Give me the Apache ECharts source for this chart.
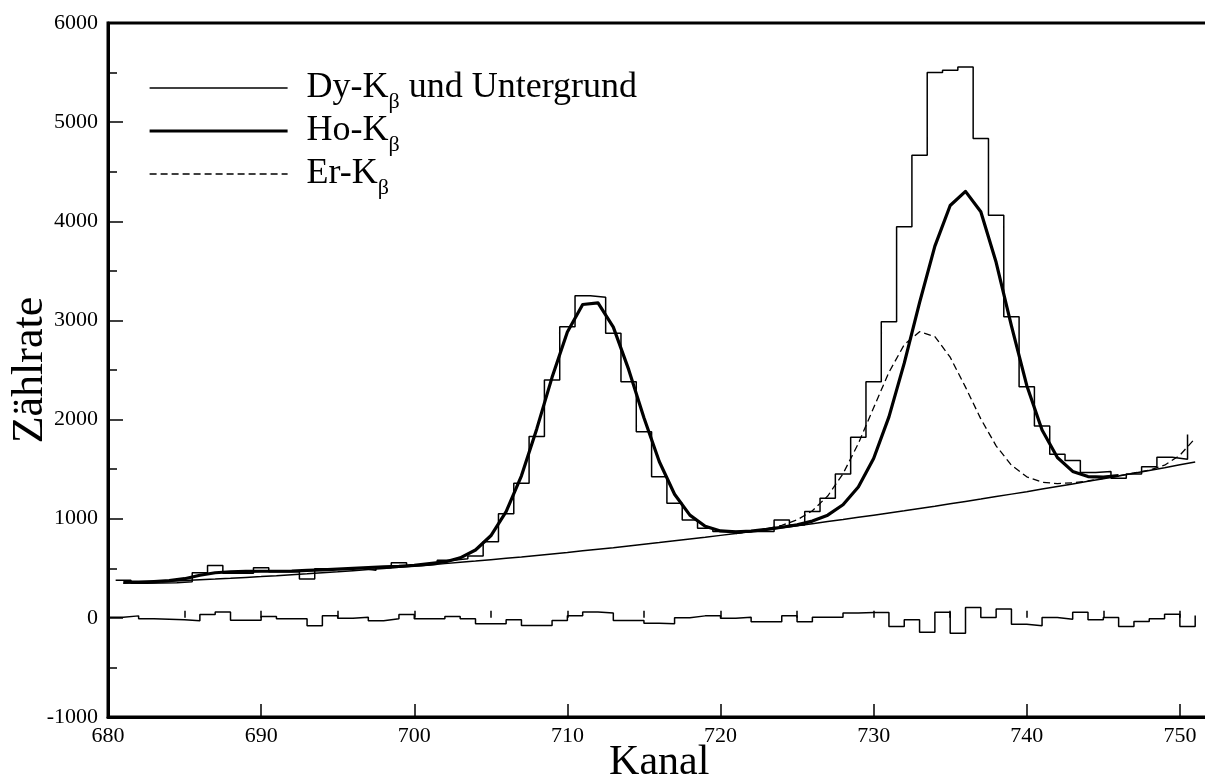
<!DOCTYPE html>
<html>
<head>
<meta charset="utf-8">
<script src="https://cdn.jsdelivr.net/npm/echarts@6/dist/echarts.min.js"></script>
<style>
  html, body { margin: 0; padding: 0; background: #fff; }
  #chart { width: 1205px; height: 779px; }
</style>
</head>
<body>
<div id="chart"></div>
<script>
// Kβ region of the spectrum: measured counts per channel, fitted components and residuals.

const firstChannel = 681;          // channel of counts[0], background[0], hoFit[0]
const erFirstChannel = 721;        // channel of erFit[0]
const residualFirstChannel = 680;  // channel of residuals[0]

// measured counts (channels 681 ... 751)
const counts = [
  380, 350, 351, 355, 365, 454, 527, 450, 450, 505,
  465, 465, 393, 495, 490, 500, 480, 505, 557, 525,
  540, 580, 595, 624, 768, 1051, 1358, 1828, 2399, 2937,
  3250, 3233, 2870, 2382, 1878, 1424, 1156, 988, 904, 870,
  870, 870, 872, 988, 937, 1072, 1207, 1452, 1821, 2382,
  2987, 3945, 4667, 5500, 5524, 5557, 4836, 4062, 3037, 2332,
  1935, 1650, 1586, 1465, 1475, 1408, 1452, 1525, 1620, 1600,
  1850
];

// Dy-Kβ und Untergrund (channels 681 ... 751)
const background = [
  350, 356, 362, 369, 376, 384, 391, 399, 408, 416,
  425, 435, 444, 455, 465, 476, 487, 498, 510, 522,
  534, 547, 560, 573, 587, 601, 615, 630, 645, 660,
  676, 692, 708, 725, 742, 759, 777, 795, 813, 832,
  851, 870, 889, 909, 929, 950, 971, 992, 1014, 1036,
  1058, 1080, 1103, 1126, 1150, 1174, 1198, 1223, 1248, 1273,
  1299, 1325, 1351, 1377, 1404, 1431, 1459, 1487, 1515, 1544,
  1573
];

// Ho-Kβ fit curve (channels 681 ... 746)
const hoFit = [
  360, 360, 366, 375, 395, 430, 455, 465, 468, 470,
  470, 472, 478, 484, 492, 500, 508, 514, 520, 530,
  548, 564, 605, 684, 828, 1071, 1433, 1906, 2426, 2884,
  3161, 3177, 2932, 2506, 2018, 1577, 1247, 1036, 924, 877,
  868, 875, 892, 914, 938, 976, 1036, 1141, 1320, 1608,
  2027, 2569, 3179, 3749, 4159, 4302, 4096, 3586, 2945, 2344,
  1894, 1617, 1477, 1425, 1420, 1436
];

// Er-Kβ fit curve (channels 721 ... 751)
const erFit = [
  851, 870, 898, 933, 988, 1080, 1229, 1453, 1758, 2119,
  2477, 2756, 2887, 2837, 2629, 2327, 2007, 1735, 1540, 1423,
  1368, 1354, 1362, 1381, 1406, 1433, 1461, 1490, 1540, 1640,
  1811
];

// residuals, measured minus fit (channels 680 ... 751)
const residuals = [
  7, 20, -10, -15, -20, -30, 35, 60, -25, -25,
  13, -8, -8, -80, 20, -3, 7, -30, -10, 35,
  -10, -10, 13, -10, -60, -60, -20, -77, -77, -27,
  20, 60, 50, -27, -27, -54, -60, 0, 20, 20,
  -3, 7, -40, -40, 20, -40, 5, 5, 50, 55,
  55, -87, -20, -144, 57, -155, 104, 3, 90, -64,
  -80, 3, -13, 57, -20, 3, -87, -37, -10, 37,
  -87, 23
];

const legendNames = ['Dy-Kβ und Untergrund', 'Ho-Kβ', 'Er-Kβ'];
const xTitle = 'Kanal';
const yTitle = 'Zählrate';

const serif = "'Liberation Serif', 'DejaVu Serif', 'Times New Roman', serif";

// line styles shared by the curves and their legend samples
const thinLine = { color: '#000', width: 1.5 };
const thickLine = { color: '#000', width: 3.2, join: 'round' };
const dashedLine = { color: '#000', width: 1.3, type: [7, 4] };

// pair each value with its channel; offset shifts to a bin's left edge
function pairs(values, start, offset) {
  return values.map((v, i) => [start + i + (offset || 0), v]);
}

const chart = echarts.init(document.getElementById('chart'), null, { renderer: 'canvas' });

const black = '#000';

chart.setOption({
  animation: false,
  backgroundColor: '#fff',
  grid: {
    left: 108, top: 23, right: -5.5, bottom: 62,
    show: true, borderColor: black, borderWidth: 3, backgroundColor: 'transparent',
    containLabel: false, outerBoundsMode: 'none'
  },
  legend: {
    orient: 'vertical',
    left: 148, top: 70, padding: 0,
    itemWidth: 138, itemHeight: 10, itemGap: 0,
    selectedMode: false,
    data: [
      { name: legendNames[0], lineStyle: thinLine },
      { name: legendNames[1], lineStyle: thickLine },
      { name: legendNames[2], lineStyle: dashedLine }
    ],
    itemStyle: { opacity: 0 },
    formatter: function (name) {
      const parts = name.split('β');
      let s = '{g| }{n|' + parts[0] + '}{s|β}';
      if (parts[1]) s += '{n|' + parts[1] + '}';
      return s;
    },
    textStyle: {
      color: black,
      rich: {
        g: { width: 14 },
        n: { fontFamily: serif, fontSize: 36, color: black },
        s: { fontFamily: serif, fontSize: 22, color: black, padding: [28, 0, 0, 0] }
      }
    }
  },
  xAxis: [
    {
      type: 'value', min: 680, max: 752, interval: 10, position: 'bottom',
      axisLine: { show: true, onZero: false, lineStyle: { color: black, width: 3 } },
      axisTick: { show: true, inside: true, length: 13, lineStyle: { color: black, width: 1.5 } },
      axisLabel: {
        fontFamily: serif, fontSize: 22, color: black, margin: 8,
        formatter: v => (v % 10 === 0 ? String(v) : '')
      },
      splitLine: { show: false },
      name: xTitle, nameLocation: 'middle', nameGap: 25, nameMoveOverlap: false,
      nameTextStyle: { fontFamily: serif, fontSize: 42, color: black }
    },
    {
      type: 'value', min: 680, max: 752, interval: 5, position: 'bottom',
      axisLine: { show: false },
      axisTick: { show: true, inside: true, length: 7, lineStyle: { color: black, width: 1.5 } },
      axisLabel: { show: false },
      splitLine: { show: false }
    }
  ],
  yAxis: {
    type: 'value', min: -1000, max: 6000, interval: 1000,
    axisLine: { show: true, onZero: false, lineStyle: { color: black, width: 3 } },
    axisTick: { show: true, inside: true, length: 15, lineStyle: { color: black, width: 1.5 } },
    minorTick: { show: true, splitNumber: 2, length: 9, lineStyle: { color: black, width: 1.5 } },
    axisLabel: {
      fontFamily: serif, fontSize: 22, color: black, margin: 10,
      formatter: v => String(v)
    },
    splitLine: { show: false },
    name: yTitle, nameLocation: 'middle', nameGap: 56, nameMoveOverlap: false,
    nameTextStyle: { fontFamily: serif, fontSize: 44, color: black }
  },
  series: [
    {
      name: 'Messung', type: 'line', step: 'end', symbol: 'none', silent: true,
      data: pairs(counts, firstChannel, -0.5),
      lineStyle: thinLine, itemStyle: { color: black }, z: 2
    },
    {
      name: legendNames[0], type: 'line', symbol: 'none', silent: true,
      data: pairs(background, firstChannel),
      lineStyle: thinLine, itemStyle: { color: black }, z: 3
    },
    {
      name: legendNames[1], type: 'line', symbol: 'none', silent: true,
      data: pairs(hoFit, firstChannel),
      lineStyle: thickLine, itemStyle: { color: black }, z: 4
    },
    {
      name: legendNames[2], type: 'line', symbol: 'none', silent: true,
      data: pairs(erFit, erFirstChannel),
      lineStyle: dashedLine, itemStyle: { color: black }, z: 3
    },
    {
      name: 'Residuen', type: 'line', step: 'end', symbol: 'none', silent: true,
      data: pairs(residuals, residualFirstChannel),
      lineStyle: thinLine, itemStyle: { color: black }, z: 2
    }
  ]
});
</script>
</body>
</html>
